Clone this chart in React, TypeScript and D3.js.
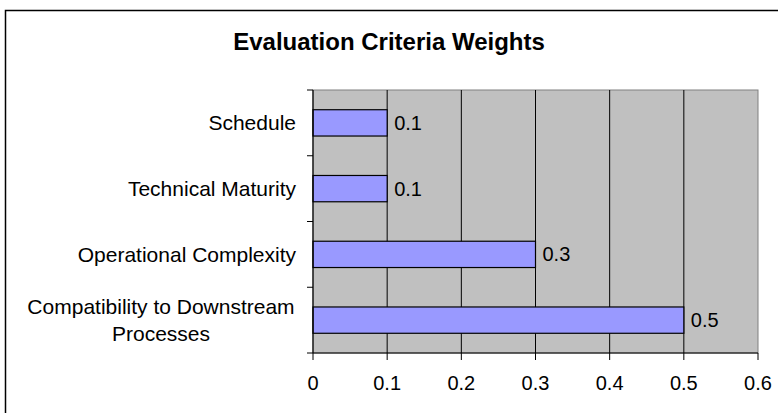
import React from 'react';
import * as d3 from 'd3';

const title = 'Evaluation Criteria Weights';
const categories = ['Schedule', 'Technical Maturity', 'Operational Complexity', 'Compatibility to Downstream Processes'];
const categoryLines = [['Schedule'], ['Technical Maturity'], ['Operational Complexity'], ['Compatibility to Downstream', 'Processes']];
const weights = [0.1, 0.1, 0.3, 0.5];
const xTicks = [0, 0.1, 0.2, 0.3, 0.4, 0.5, 0.6];

const width = 778;
const height = 413;
const plot = { left: 313, right: 758, top: 90, bottom: 353 };
const font = "'Liberation Sans', Arial, sans-serif";

export default function App() {
	const x = d3.scaleLinear()
		.domain([0, 0.6])
		.range([plot.left, plot.right]);

	const y = d3.scaleBand()
		.domain(categories)
		.range([plot.top, plot.bottom])
		.paddingInner(0.6)
		.paddingOuter(0.3);

	const step = y.step();
	const bounds = d3.range(categories.length + 1).map(i => plot.top + i * step);

	return (
		<svg width={width} height={height} style={{ position: 'absolute', left: 0, top: 0, background: '#fff' }}>
			<rect x={5.5} y={10.5} width={width + 20} height={height + 20} fill="#fff" stroke="#000" strokeWidth={1.5} />
			<text x={389} y={50} textAnchor="middle" fontFamily={font} fontWeight="bold" fontSize={24}>{title}</text>

			{/* plot area */}
			<rect x={plot.left} y={plot.top} width={plot.right - plot.left} height={plot.bottom - plot.top} fill="#c0c0c0" stroke="#808080" />
			{xTicks.slice(1, -1).map(t => (
				<line key={t} x1={x(t)} x2={x(t)} y1={plot.top} y2={plot.bottom} stroke="#000" strokeWidth={1} />
			))}

			{/* bars */}
			{categories.map((c, i) => (
				<g key={c}>
					<rect x={x(0)} y={y(c)} width={x(weights[i]) - x(0)} height={y.bandwidth()}
						fill="#9999ff" stroke="#000" strokeWidth={1.2} />
					<text x={x(weights[i]) + 7} y={(y(c) as number) + y.bandwidth() / 2} dy="0.35em"
						fontFamily={font} fontSize={20}>{weights[i]}</text>
				</g>
			))}

			{/* axes */}
			<line x1={plot.left} x2={plot.left} y1={plot.top} y2={plot.bottom} stroke="#000" strokeWidth={1.2} />
			<line x1={plot.left} x2={plot.right} y1={plot.bottom} y2={plot.bottom} stroke="#000" strokeWidth={1.2} />
			{bounds.map(b => (
				<line key={b} x1={plot.left - 6} x2={plot.left} y1={b} y2={b} stroke="#000" />
			))}
			{xTicks.map(t => (
				<g key={t}>
					<line x1={x(t)} x2={x(t)} y1={plot.bottom} y2={plot.bottom + 7} stroke="#000" />
					<text x={x(t)} y={383} dy="0.35em" textAnchor="middle" fontFamily={font} fontSize={20}>{t}</text>
				</g>
			))}

			{/* category labels */}
			{categories.map((c, i) => {
				const lines = categoryLines[i];
				const cy = (y(c) as number) + y.bandwidth() / 2;
				const lh = 27;
				return (
					<text key={c} fontFamily={font} fontSize={21} textAnchor={lines.length > 1 ? 'middle' : 'end'}>
						{lines.map((l, j) => (
							<tspan key={j} x={lines.length > 1 ? 161 : 296} y={cy + (j - (lines.length - 1) / 2) * lh} dy="0.35em">{l}</tspan>
						))}
					</text>
				);
			})}
		</svg>
	);
}
